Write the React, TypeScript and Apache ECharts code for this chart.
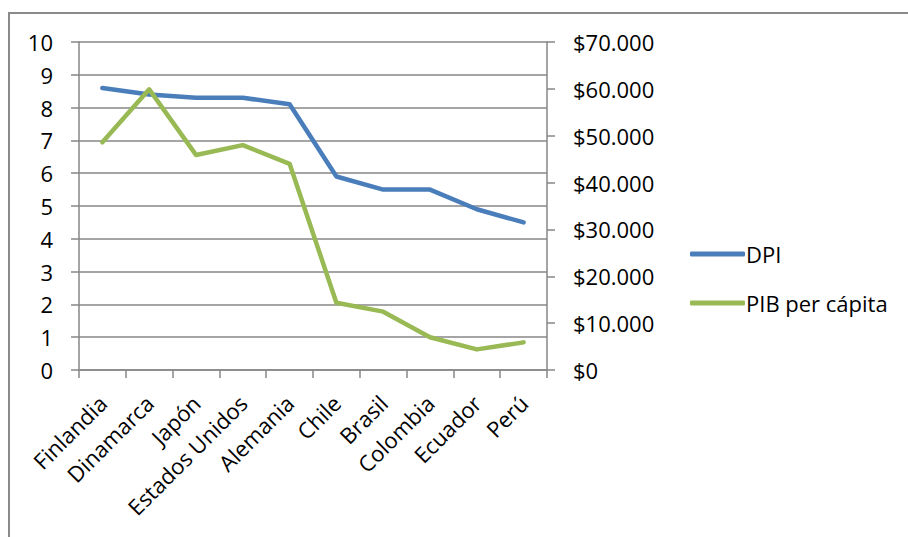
import React, { useEffect, useRef } from "react";
import * as echarts from "echarts";

const categories = ["Finlandia", "Dinamarca", "Japón", "Estados Unidos", "Alemania", "Chile", "Brasil", "Colombia", "Ecuador", "Perú"];
const dpi = [8.6, 8.4, 8.3, 8.3, 8.1, 5.9, 5.5, 5.5, 4.9, 4.5];
const pibPerCapita = [48600, 59900, 45900, 48000, 44000, 14350, 12450, 7000, 4400, 5900];
const seriesNames = ["DPI", "PIB per cápita"];

const FONT = "'Open Sans', sans-serif";
const GRID_COLOR = "#878787";

function money(v: number): string {
  if (v === 0) return "$0";
  const s = String(Math.round(v));
  return "$" + s.replace(/\B(?=(\d{3})+(?!\d))/g, ".");
}

export default function App() {
  const ref = useRef<HTMLDivElement>(null);
  useEffect(() => {
    if (!ref.current) return;
    const chart = echarts.init(ref.current, null, { renderer: "svg" });
    chart.setOption({
      animation: false,
      backgroundColor: "#ffffff",
      textStyle: { fontFamily: FONT },
      grid: { left: 79, right: 361, top: 42, bottom: 167, containLabel: false },
      legend: {
        orient: "vertical",
        left: 685,
        top: 237,
        icon: "roundRect",
        itemWidth: 55,
        itemHeight: 5,
        itemGap: 25,
        textStyle: { fontFamily: FONT, fontSize: 22, color: "#000", lineHeight: 24, padding: [0, 0, 0, -4] },
        data: seriesNames,
      },
      xAxis: {
        type: "category",
        data: categories,
        boundaryGap: true,
        axisLine: { lineStyle: { color: GRID_COLOR, width: 1.5 } },
        axisTick: { show: true, length: 8, lineStyle: { color: GRID_COLOR, width: 1.5 } },
        axisLabel: { rotate: 45, margin: 29, fontSize: 22, color: "#000", fontFamily: FONT, interval: 0 },
      },
      yAxis: [
        {
          type: "value",
          min: 0,
          max: 10,
          interval: 1,
          axisLine: { show: true, lineStyle: { color: GRID_COLOR, width: 1.5 } },
          axisTick: { show: true, length: 8, lineStyle: { color: GRID_COLOR, width: 1.5 } },
          splitLine: { show: true, lineStyle: { color: GRID_COLOR, width: 1.5 } },
          axisLabel: { margin: 26, fontSize: 22, color: "#000", fontFamily: FONT },
        },
        {
          type: "value",
          min: 0,
          max: 70000,
          interval: 10000,
          position: "right",
          axisLine: { show: true, lineStyle: { color: GRID_COLOR, width: 1.5 } },
          axisTick: { show: true, length: 8, lineStyle: { color: GRID_COLOR, width: 1.5 } },
          splitLine: { show: false },
          axisLabel: { margin: 26, fontSize: 22, color: "#000", fontFamily: FONT, formatter: (v: number) => money(v) },
        },
      ],
      series: [
        {
          name: seriesNames[0],
          type: "line",
          data: dpi,
          yAxisIndex: 0,
          showSymbol: false,
          symbol: "none",
          color: "#4A7EBB",
          lineStyle: { width: 4.5, color: "#4A7EBB", cap: "round", join: "round" },
        },
        {
          name: seriesNames[1],
          type: "line",
          data: pibPerCapita,
          yAxisIndex: 1,
          showSymbol: false,
          symbol: "none",
          color: "#98B954",
          lineStyle: { width: 4.5, color: "#98B954", cap: "round", join: "round" },
        },
      ],
      graphic: [
        {
          type: "rect",
          shape: { x: 9, y: 13, width: 1000, height: 700 },
          style: { fill: "none", stroke: "#8a8a8a", lineWidth: 2 },
          silent: true,
        },
      ],
    });
    return () => chart.dispose();
  }, []);
  return <div ref={ref} style={{ position: "fixed", left: 0, top: 0, width: 908, height: 537 }} />;
}
